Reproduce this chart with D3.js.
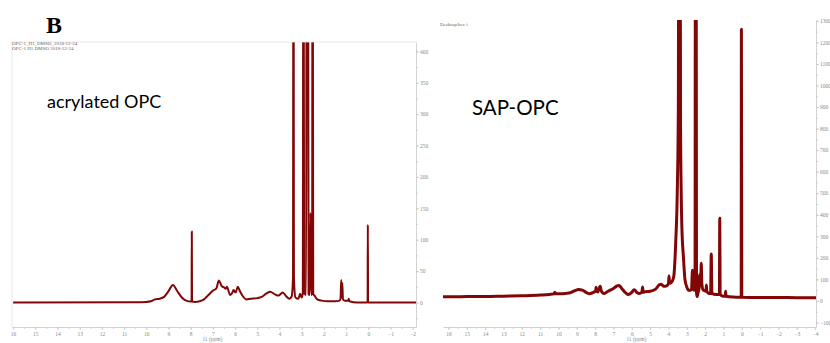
<!DOCTYPE html>
<html>
<head>
<meta charset="utf-8">
<script src="https://cdn.jsdelivr.net/npm/d3@7"></script>
<style>
  body { margin: 0; background: #fff; }
  svg { display: block; }
  .axis path, .axis line { stroke: #c8c8c8; stroke-width: 0.8; }
  .axis text { fill: #8a8a8a; font-family: "Liberation Serif", serif; font-size: 5.5px; }
</style>
</head>
<body>
<div id="chart"></div>
<script>
// acrylated OPC spectrum: chemical shift (ppm) and intensity
const opcPpm = [16, 10.5, 10.0, 9.8, 9.6, 9.4, 9.2, 9.0, 8.8, 8.6, 8.4, 8.2, 8.0, 7.96, 7.95, 7.94, 7.8, 7.6, 7.4, 7.2,
  7.0, 6.85, 6.73, 6.6, 6.49, 6.42, 6.37, 6.22, 6.12, 6.07, 5.98, 5.88, 5.78, 5.65, 5.5, 5.3, 5.0, 4.8, 4.6, 4.42,
  4.2, 4.05, 3.85, 3.7, 3.55, 3.45, 3.39, 3.37, 3.35, 3.28, 3.15, 3.07, 3.0, 2.95, 2.92, 2.89, 2.8, 2.77, 2.75, 2.72,
  2.69, 2.64, 2.6, 2.57, 2.53, 2.51, 2.48, 2.4, 2.3, 2.1, 1.8, 1.5, 1.3, 1.25, 1.22, 1.195, 1.17, 1.14, 1.05, 0.9,
  0.88, 0.85, 0.5, 0.03, 0.02, 0.01, -2.15];
const opcInt = [0, 0.5, 1, 2, 5, 6, 9, 18, 28, 18, 8, 3, 1.5, 1.5, 113, 1.5, 1, 2, 5, 12,
  19, 22, 35, 26, 24, 22, 25, 12, 16, 20, 16, 25, 18, 10, 5, 6, 7, 9, 14, 17,
  13, 11, 16, 10, 6, 10, 40, 900, 40, 8, 6, 14, 8, 15, 900, 15, 12, 900, 900, 900,
  14, 12, 143, 12, 14, 900, 14, 10, 5, 3, 2, 2, 3, 6, 36, 8, 31, 5, 3, 3,
  6, 2, 0, 0, 124, 0, 0];

// SAP-OPC spectrum
const sapPpm = [16.3, 15, 14, 13, 12, 11, 10.5, 10.25, 10.2, 10.15, 10.0, 9.6, 9.3, 9.1, 8.9, 8.7, 8.5, 8.3, 8.1, 7.97,
  7.95, 7.93, 7.85, 7.77, 7.72, 7.69, 7.6, 7.5, 7.3, 7.0, 6.8, 6.7, 6.55, 6.3, 6.2, 6.0, 5.87, 5.7, 5.6, 5.45,
  5.41, 5.38, 5.3, 5.0, 4.7, 4.5, 4.4, 4.25, 4.1, 4.0, 3.97, 3.94, 3.85, 3.75, 3.7, 3.6, 3.52, 3.46, 3.42, 3.38,
  3.34, 3.27, 3.18, 3.1, 3.0, 2.9, 2.8, 2.74, 2.69, 2.66, 2.6, 2.55, 2.52, 2.5, 2.47, 2.44, 2.38, 2.33, 2.31, 2.29,
  2.24, 2.21, 2.18, 2.1, 1.95, 1.93, 1.91, 1.8, 1.7, 1.665, 1.63, 1.4, 1.22, 1.2, 1.18, 1.0, 0.9, 0.88, 0.86, 0.5,
  0.03, 0.02, 0.0, -1, -2, -3, -4.05];
const sapInt = [19, 20, 20, 22, 24, 27, 30, 33, 40, 33, 33, 35, 40, 48, 53, 50, 40, 33, 40, 45,
  63, 45, 42, 62, 68, 55, 38, 35, 45, 58, 70, 72, 58, 35, 30, 40, 52, 38, 35, 40,
  65, 40, 42, 45, 55, 75, 78, 68, 70, 80, 116, 82, 85, 100, 120, 280, 500, 900, 3000, 3000,
  800, 350, 200, 100, 65, 50, 50, 55, 142, 60, 50, 60, 3000, 3000, 40, 20, 40, 60, 121, 70,
  80, 175, 80, 50, 45, 74, 45, 35, 35, 218, 35, 30, 30, 384, 30, 22, 22, 45, 22, 18,
  17, 1261, 17, 16, 16, 15, 15];

const opcYTicks = [400, 350, 300, 250, 200, 150, 100, 50, 0];
const sapYTicks = [1300, 1200, 1100, 1000, 900, 800, 700, 600, 500, 400, 300, 200, 100, 0, -100];

const W = 830, H = 343;
const red = "#820606";

const svg = d3.select("#chart").append("svg")
  .attr("width", W).attr("height", H);

function panel(opts) {
  const g = svg.append("g");
  const x = d3.scaleLinear().domain(opts.xDomain).range(opts.xRange);
  const y = d3.scaleLinear().domain(opts.yDomain).range(opts.yRange);

  // x axis with minor ticks
  const xMajor = d3.range(Math.floor(opts.xDomain[0]), Math.ceil(opts.xDomain[1]) - 1, -1);
  const xMinor = d3.range(Math.floor(opts.xDomain[0] * 2) / 2, opts.xDomain[1], -0.5);
  g.append("g").attr("class", "axis")
    .attr("transform", `translate(0,${opts.yRange[0]})`)
    .call(d3.axisBottom(x).tickValues(xMinor).tickSize(2).tickFormat(""))
    .select(".domain").remove();
  g.append("g").attr("class", "axis")
    .attr("transform", `translate(0,${opts.yRange[0]})`)
    .call(d3.axisBottom(x).tickValues(xMajor).tickSize(3).tickSizeOuter(0).tickPadding(2).tickFormat(d3.format("d")));

  // y axis on the right
  const yStep = opts.yTicks[0] - opts.yTicks[1];
  const yMinor = d3.range(opts.yTicks[opts.yTicks.length - 1] - yStep / 2, opts.yDomain[1], yStep / 2);
  g.append("g").attr("class", "axis")
    .attr("transform", `translate(${opts.xRange[1]},0)`)
    .call(d3.axisRight(y).tickValues(yMinor).tickSize(2).tickFormat(""))
    .select(".domain").remove();
  g.append("g").attr("class", "axis")
    .attr("transform", `translate(${opts.xRange[1]},0)`)
    .call(d3.axisRight(y).tickValues(opts.yTicks).tickSize(3).tickSizeOuter(0).tickPadding(1).tickFormat(d3.format("d")));

  g.append("text")
    .attr("x", opts.unitX).attr("y", 341)
    .attr("fill", "#8a8a8a")
    .style("font-family", "Liberation Serif, serif")
    .style("font-size", "5.5px")
    .text("f1 (ppm)");

  // spectrum
  const clipId = "clip-" + opts.name;
  g.append("clipPath").attr("id", clipId)
    .append("rect")
    .attr("x", opts.xRange[0]).attr("y", opts.yRange[1])
    .attr("width", opts.xRange[1] - opts.xRange[0])
    .attr("height", opts.yRange[0] - opts.yRange[1]);

  const pts = opts.ppm.map((p, i) => [p, opts.int[i]]);
  const line = d3.line()
    .x(d => x(d[0]))
    .y(d => y(d[1]))
    .curve(d3.curveMonotoneX);

  g.append("path")
    .datum(pts)
    .attr("clip-path", `url(#${clipId})`)
    .attr("fill", "none")
    .attr("stroke", red)
    .attr("stroke-width", opts.stroke)
    .attr("stroke-linejoin", "round")
    .attr("d", line);

  return g;
}

// left: acrylated OPC
const left = panel({
  name: "opc",
  xDomain: [16.05, -2.15], xRange: [12, 416],
  yDomain: [-39, 415], yRange: [327, 42],
  yTicks: opcYTicks, ppm: opcPpm, int: opcInt,
  stroke: 2, unitX: 203
});
left.append("line")
  .attr("x1", 12).attr("x2", 416).attr("y1", 42).attr("y2", 42)
  .attr("stroke", "#e2e2e2").attr("stroke-width", 0.8);
left.append("line")
  .attr("x1", 12).attr("x2", 12).attr("y1", 42).attr("y2", 327)
  .attr("stroke", "#e2e2e2").attr("stroke-width", 0.8);

// right: SAP-OPC
const right = panel({
  name: "sap",
  xDomain: [16.3, -4.05], xRange: [443, 816],
  yDomain: [-121, 1304], yRange: [327, 20],
  yTicks: sapYTicks, ppm: sapPpm, int: sapInt,
  stroke: 3, unitX: 627
});

// labels
const smallText = (x, y, t) => svg.append("text")
  .attr("x", x).attr("y", y)
  .attr("fill", "#666")
  .style("font-family", "Liberation Serif, serif")
  .style("font-size", "5px")
  .text(t);
smallText(12, 45, "OPC-1_H1_DMSO_2018-12-24");
smallText(12, 50, "OPC-1  H1  DMSO  2018-12-24");
smallText(440, 26, "Desktop/hec i");

svg.append("text")
  .attr("x", 46).attr("y", 33)
  .attr("fill", "#000")
  .style("font-family", "Liberation Serif, serif")
  .style("font-weight", "bold")
  .style("font-size", "24px")
  .text("B");

svg.append("text")
  .attr("x", 47).attr("y", 108)
  .style("font-family", "Lato, sans-serif")
  .style("font-size", "18px")
  .text("acrylated OPC");

svg.append("text")
  .attr("x", 472).attr("y", 115)
  .style("font-family", "Lato, sans-serif")
  .style("font-size", "20.5px")
  .text("SAP-OPC");
</script>
</body>
</html>
